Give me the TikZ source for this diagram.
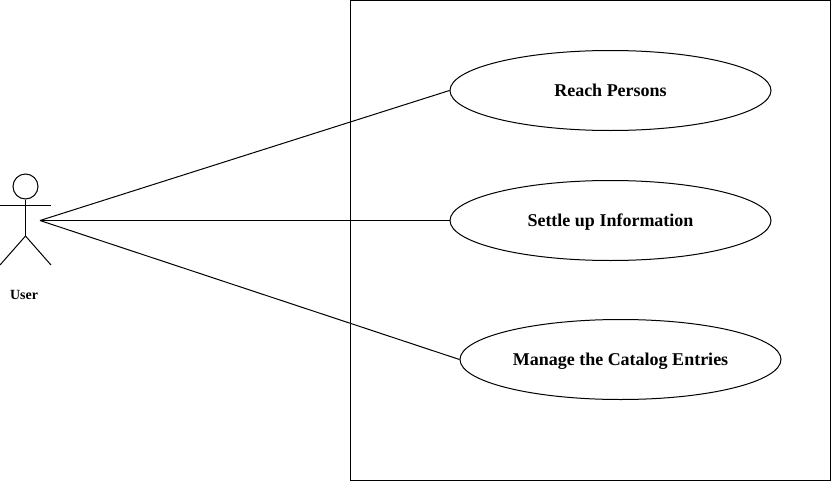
\documentclass[tikz,border=0pt]{standalone}
\usepackage{fontspec}
\setmainfont{Liberation Serif}
\usetikzlibrary{shapes.geometric}
\begin{document}
\begin{tikzpicture}[x=1pt, y=-1pt, line width=1pt,
        usecase/.style={ellipse, draw=black, fill=white, minimum width=321pt, minimum height=80pt,
                        inner sep=0pt, text height=12pt, text depth=0pt,
                        font=\fontsize{18}{20}\selectfont\bfseries},
        sysbox/.style={rectangle, draw=black, minimum width=480pt, minimum height=480pt, inner sep=0pt},
        actorlbl/.style={font=\fontsize{14}{16}\selectfont\bfseries, inner sep=0pt},
        lnk/.style={draw=black}
    ]
    \useasboundingbox (0,0) rectangle (831,482);
    \node[sysbox] (sys) at (590.5,240.5) {};

    \node[usecase] (reach)  at (610.5,90.5)  {Reach Persons};
    \node[usecase] (settle) at (610.5,220.5) {Settle up Information};
    \node[usecase] (manage) at (620.5,359.5) {Manage the Catalog Entries};

    \node[circle, draw=black, minimum size=25pt, inner sep=0pt] (head) at (25.5,186.5) {};
    \coordinate (hand) at (40,220.5);
    \coordinate (hip)  at (25.5,236);
    \coordinate (armL) at (0,205);
    \coordinate (armR) at (51,205);
    \coordinate (legL) at (0,265);
    \coordinate (legR) at (51,265);
    \draw[lnk] (head.south) -- (hip);
    \draw[lnk] (armL) -- (armR);
    \draw[lnk] (hip) -- (legL);
    \draw[lnk] (hip) -- (legR);
    \node[actorlbl] (user) at (24,295) {User};

    \draw[lnk] (hand) -- (reach.west);
    \draw[lnk] (hand) -- (settle.west);
    \draw[lnk] (hand) -- (manage.west);
\end{tikzpicture}
\end{document}
